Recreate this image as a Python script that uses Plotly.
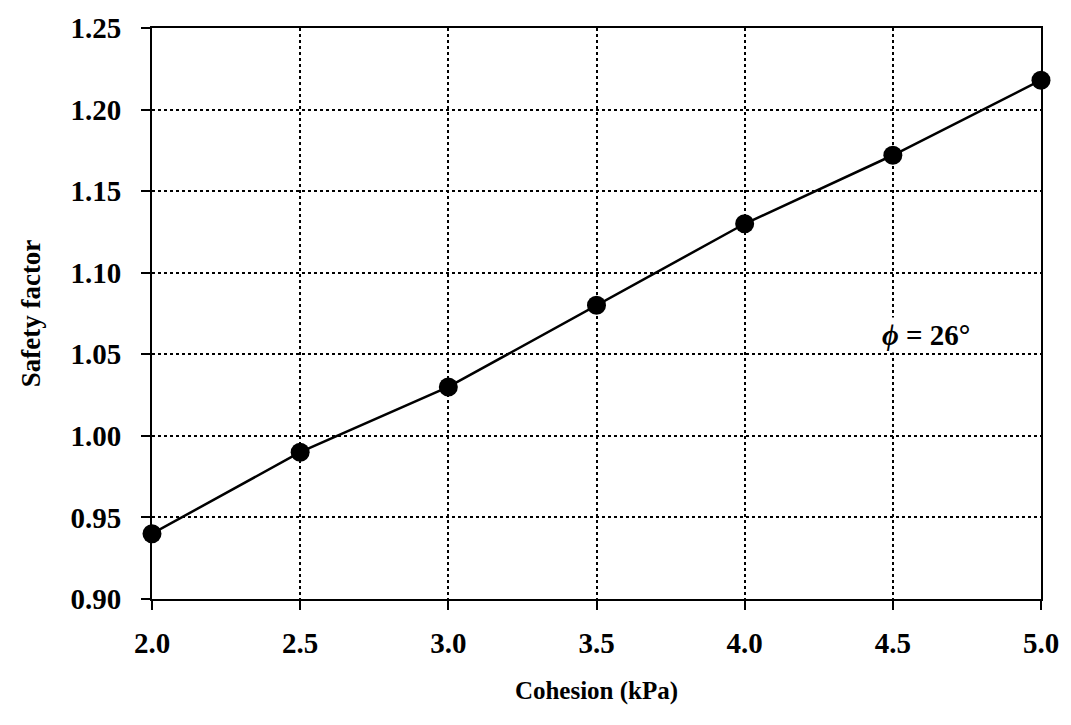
import plotly.graph_objects as go

# Safety factor versus cohesion for a friction angle of 26 degrees
cohesion_kpa = [2.0, 2.5, 3.0, 3.5, 4.0, 4.5, 5.0]
safety_factor = [0.940, 0.990, 1.030, 1.080, 1.130, 1.172, 1.218]

x_ticks = [2.0, 2.5, 3.0, 3.5, 4.0, 4.5, 5.0]
x_tick_text = ["2.0", "2.5", "3.0", "3.5", "4.0", "4.5", "5.0"]
y_ticks = [0.90, 0.95, 1.00, 1.05, 1.10, 1.15, 1.20, 1.25]
y_tick_text = ["0.90", "0.95", "1.00", "1.05", "1.10", "1.15", "1.20", "1.25"]

FONT = "Liberation Serif"

fig = go.Figure()
fig.add_trace(go.Scatter(
    x=cohesion_kpa,
    y=safety_factor,
    mode="lines+markers",
    line=dict(color="black", width=2.5),
    marker=dict(color="black", size=19, symbol="circle"),
    cliponaxis=False,
    showlegend=False,
))

fig.add_annotation(
    x=4.455, y=1.062, xref="x", yref="y",
    text="<b><i>ϕ</i> = 26°</b>",
    showarrow=False, xanchor="left", yanchor="middle",
    bgcolor="white",
    font=dict(family=FONT, size=29, color="black"),
)

axis_common = dict(
    showline=True, linecolor="black", linewidth=2, mirror=True,
    showgrid=True, gridcolor="black", gridwidth=1.8, griddash="dot",
    ticks="outside", ticklen=9, tickwidth=2, tickcolor="black",
    zeroline=False,
    tickfont=dict(family=FONT, size=29, color="black"),
)

fig.update_xaxes(
    range=[2.0, 5.0],
    tickvals=x_ticks, ticktext=[f"<b>{t}</b>" for t in x_tick_text],
    title=dict(text="<b>Cohesion (kPa)</b>", font=dict(family=FONT, size=25, color="black"), standoff=24),
    ticklabelstandoff=8,
    **axis_common,
)
fig.update_yaxes(
    range=[0.90, 1.25],
    tickvals=y_ticks, ticktext=[f"<b>{t}</b>" for t in y_tick_text],
    title=dict(text="<b>Safety factor</b>", font=dict(family=FONT, size=27, color="black"), standoff=22),
    ticklabelstandoff=14,
    **axis_common,
)

fig.update_layout(
    width=1071, height=725,
    margin=dict(l=152, r=28, t=23, b=126),
    paper_bgcolor="white", plot_bgcolor="white",
    font=dict(family=FONT, color="black"),
)

fig.write_html("out.html")
